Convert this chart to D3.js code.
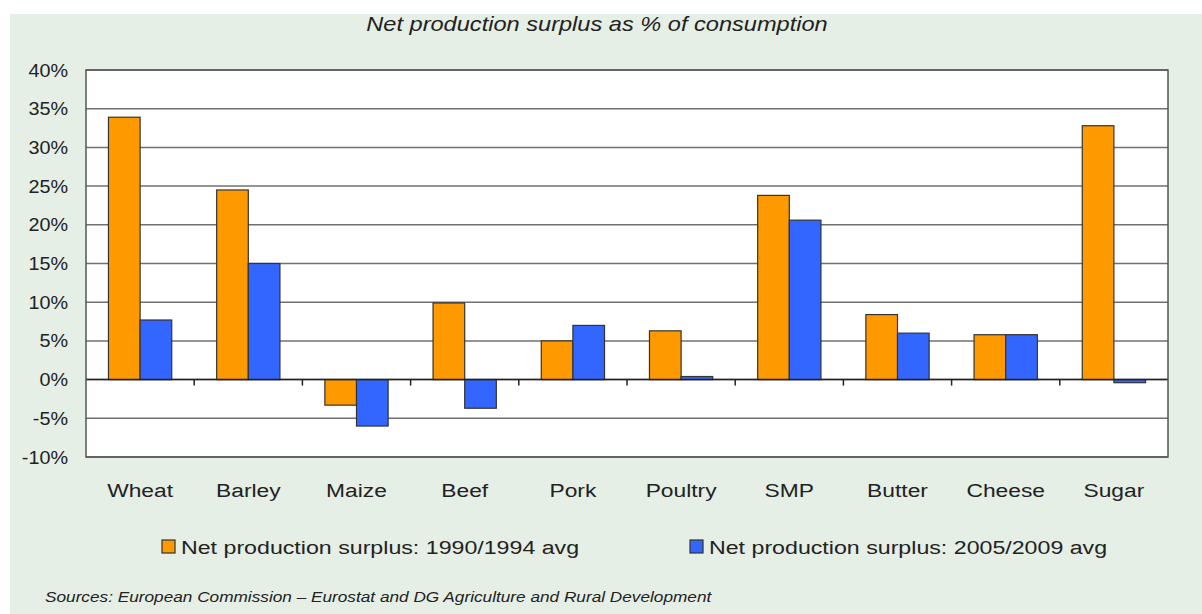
<!DOCTYPE html>
<html><head><meta charset="utf-8">
<script src="https://cdn.jsdelivr.net/npm/d3@7"></script>
<style>body{margin:0;background:#fff}svg{display:block}text{font-family:"Liberation Sans",Arial,sans-serif}</style>
</head><body><svg id="c" width="1202" height="614"></svg>
<script>
const categories = ["Wheat","Barley","Maize","Beef","Pork","Poultry","SMP","Butter","Cheese","Sugar"];
const series1990 = [33.9,24.5,-3.3,9.9,5.0,6.3,23.8,8.4,5.8,32.8];
const series2005 = [7.7,15.0,-6.0,-3.7,7.0,0.4,20.6,6.0,5.8,-0.4];
const seriesNames = ["Net production surplus: 1990/1994 avg","Net production surplus: 2005/2009 avg"];
const seriesColors = ["#FF9900","#3366FF"];
const yTicks = [-10,-5,0,5,10,15,20,25,30,35,40];
const title = "Net production surplus as % of consumption";
const source = "Sources: European Commission \u2013 Eurostat and DG Agriculture and Rural Development";

const svg = d3.select("#c");
svg.append("rect").attr("x",10).attr("y",14).attr("width",1192).attr("height",600).attr("fill","#E5EFE5");

// stretched text helper
function stext(g, x, y, str, size, sx, anchor, italic){
  return g.append("text").attr("transform",`translate(${x},${y}) scale(${sx},1)`)
    .attr("font-size",size).attr("text-anchor",anchor||"start")
    .attr("font-style",italic?"italic":"normal").attr("fill","#222").text(str);
}

const L=86,R=1168,T=70,B=457;
const x = d3.scaleBand().domain(categories).range([L,R]);
const y = d3.scaleLinear().domain([-10,40]).range([B,T]);
const inner = d3.scaleBand().domain([0,1]).range([0,x.bandwidth()]).paddingInner(0).paddingOuter(0.71);

svg.append("rect").attr("x",L).attr("y",T).attr("width",R-L).attr("height",B-T).attr("fill","#fff");

// grid
svg.append("g").selectAll("line").data(yTicks).join("line")
  .attr("x1",L).attr("x2",R).attr("y1",d=>y(d)).attr("y2",d=>y(d))
  .attr("stroke","#707070").attr("stroke-width",1.5);

// y labels
const yl = svg.append("g");
yTicks.forEach(t=>stext(yl,68,y(t)+6.5,t+"%",18,1.1,"end"));

// bars
const data = [series1990,series2005];
data.forEach((vals,si)=>{
  svg.append("g").selectAll("rect").data(vals).join("rect")
    .attr("x",(d,i)=>x(categories[i])+inner(si))
    .attr("width",inner.bandwidth())
    .attr("y",d=>y(Math.max(0,d)))
    .attr("height",d=>Math.abs(y(d)-y(0)))
    .attr("fill",seriesColors[si]).attr("stroke","#333").attr("stroke-width",1.2);
});

// zero axis with ticks
svg.append("line").attr("x1",L).attr("x2",R).attr("y1",y(0)).attr("y2",y(0)).attr("stroke","#222").attr("stroke-width",1.5);
svg.append("g").selectAll("line").data(categories.slice(1)).join("line")
  .attr("x1",d=>x(d)).attr("x2",d=>x(d)).attr("y1",y(0)).attr("y2",y(0)+6)
  .attr("stroke","#222").attr("stroke-width",1.5);

// frame
svg.append("rect").attr("x",L).attr("y",T).attr("width",R-L).attr("height",B-T)
  .attr("fill","none").attr("stroke","#555").attr("stroke-width",1.5);

// category labels
const cl = svg.append("g");
categories.forEach(c=>stext(cl,x(c)+x.bandwidth()/2,497,c,19,1.2,"middle"));

// title
stext(svg,597,31,title,20,1.18,"middle",true);

// legend
const legX=[162,690];
seriesNames.forEach((n,i)=>{
  svg.append("rect").attr("x",legX[i]).attr("y",540).attr("width",13).attr("height",13)
    .attr("fill",seriesColors[i]).attr("stroke","#333").attr("stroke-width",1.2);
  stext(svg,legX[i]+19,554,n,19,1.22,"start");
});

// source
stext(svg,45,602,source,14,1.23,"start",true);
</script></body></html>
